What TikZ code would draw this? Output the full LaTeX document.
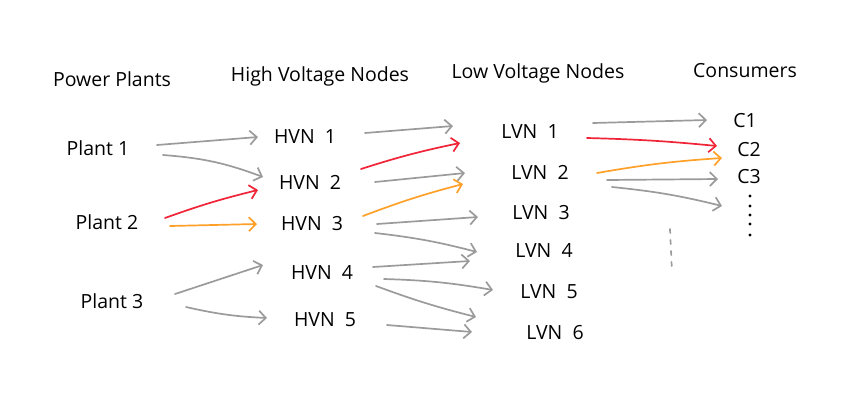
\documentclass[tikz,border=0pt]{standalone}
\usepackage{fontspec}
\setmainfont{Open Sans}
\usetikzlibrary{arrows.meta,calc}
\definecolor{flowred}{RGB}{240,35,55}
\definecolor{floworange}{RGB}{255,160,40}
\definecolor{flowgray}{RGB}{155,155,155}
\begin{document}
\begin{tikzpicture}[x=1pt,y=-1pt,>={Straight Barb[length=7pt,width=14pt]},
	line width=1.7pt,line cap=round,line join=round,
	font=\fontsize{19.5}{22}\selectfont,
	flow/.style={->,draw=flowgray},
	redflow/.style={->,draw=flowred},
	orangeflow/.style={->,draw=floworange}]
	\useasboundingbox (0,0) rectangle (863,416);
	\node (hpp) at (112,79) {Power Plants};
	\node (hhv) at (320,76) {High Voltage Nodes};
	\node (hlv) at (538,73) {Low Voltage Nodes};
	\node (hco) at (745,71) {Consumers};
	\node (p1) at (98,148) {Plant 1};
	\node (p2) at (107,222) {Plant 2};
	\node (p3) at (112,301) {Plant 3};
	\node (h1) at (305,137) {HVN\ \ 1};
	\node (h2) at (310,182) {HVN\ \ 2};
	\node (h3) at (312,224) {HVN\ \ 3};
	\node (h4) at (322,272) {HVN\ \ 4};
	\node (h5) at (325,320) {HVN\ \ 5};
	\node (l1) at (530,132) {LVN\ \ 1};
	\node (l2) at (540,172) {LVN\ \ 2};
	\node (l3) at (541,213) {LVN\ \ 3};
	\node (l4) at (544,250) {LVN\ \ 4};
	\node (l5) at (549,292) {LVN\ \ 5};
	\node (l6) at (555,333) {LVN\ \ 6};
	\node (c1) at (745,121) {C1};
	\node (c2) at (749,150) {C2};
	\node (c3) at (749,177) {C3};
	\coordinate (cmore) at (722,206);
	\foreach \y in {196,206,215,224,235}
		\fill (750,\y) circle (1.6);
	\draw[flowgray,dash pattern=on 4pt off 7pt] (670,229) -- (672,272);
	\draw[flow] ($(p1)+(59,-3)$) -- ($(h1)+(-47,0)$);
	\draw[flow] ($(p1)+(65,7)$) to[bend left=8] ($(h2)+(-47,-5)$);
	\draw[redflow] ($(p2)+(58,-4)$) to[bend left=3] ($(h2)+(-52,8)$);
	\draw[orangeflow] ($(p2)+(63,4)$) -- ($(h3)+(-55,0)$);
	\draw[flow] ($(p3)+(63,-7)$) -- ($(h4)+(-59,-7)$);
	\draw[flow] ($(p3)+(74,6)$) to[bend right=5] ($(h5)+(-58,-2)$);
	\draw[flow] ($(h1)+(60,-4)$) -- ($(l1)+(-77,-6)$);
	\draw[redflow] ($(h2)+(51,-13)$) to[bend left=3] ($(l1)+(-70,11)$);
	\draw[flow] ($(h2)+(65,0)$) -- ($(l2)+(-75,1)$);
	\draw[orangeflow] ($(h3)+(51,-8)$) to[bend left=3] ($(l2)+(-77,12)$);
	\draw[flow] ($(h3)+(65,0)$) -- ($(l3)+(-63,4)$);
	\draw[flow] ($(h3)+(63,9)$) to[bend left=4] ($(l4)+(-67,2)$);
	\draw[flow] ($(h4)+(51,-5)$) -- ($(l4)+(-74,11)$);
	\draw[flow] ($(h4)+(62,7)$) to[bend left=4] ($(l5)+(-56,-2)$);
	\draw[flow] ($(h4)+(54,14)$) to[bend right=3] ($(l6)+(-79,-16)$);
	\draw[flow] ($(h5)+(62,5)$) -- ($(l6)+(-83,-1)$);
	\draw[flow] ($(l1)+(63,-9)$) -- ($(c1)+(-38,-1)$);
	\draw[redflow] ($(l1)+(57,6)$) to[bend left=2] ($(c2)+(-32,-4)$);
	\draw[orangeflow] ($(l2)+(57,1)$) to[bend left=3] ($(c2)+(-27,8)$);
	\draw[flow] ($(l2)+(67,8)$) -- ($(c3)+(-31,2)$);
	\draw[flow] ($(l2)+(72,15)$) to[bend left=4] (cmore);
\end{tikzpicture}
\end{document}
